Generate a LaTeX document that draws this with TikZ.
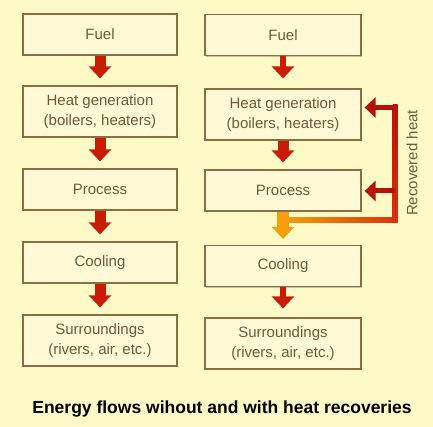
\documentclass[tikz,border=0pt]{standalone}
\usepackage{fontspec}
\setmainfont{Liberation Sans}
\usetikzlibrary{arrows.meta,shadows}

\definecolor{bgyellow}{RGB}{254,250,200}
\definecolor{boxfill}{RGB}{255,249,214}
\definecolor{boxline}{RGB}{140,108,64}
\definecolor{boxtext}{RGB}{110,90,60}
\definecolor{flowred}{RGB}{200,28,6}
\definecolor{heatdark}{RGB}{180,20,8}
\definecolor{heatred}{RGB}{215,50,10}
\definecolor{heatorange}{RGB}{245,160,10}

\begin{document}
\begin{tikzpicture}[x=1pt, y=-1pt,
    stagebox/.style={draw=boxline, line width=1.2pt, fill=boxfill, text=boxtext,
      align=center, inner sep=0pt, minimum height=41pt,
      font=\fontsize{15}{20}\selectfont,
      drop shadow={shadow xshift=1.2pt, shadow yshift=-1.2pt, fill=black!45, opacity=.5}},
    leftbox/.style={stagebox, minimum width=154pt},
    rightbox/.style={stagebox, minimum width=156pt},
    fatflow/.style={flowred, line width=11pt, -{Triangle[width=22pt,length=12pt]}},
    thinflow/.style={flowred, line width=6pt, -{Triangle[width=22pt,length=12pt]}},
    recflow/.style={heatdark, line width=5pt, -{Triangle[width=20pt,length=11pt]}, shorten >=3pt}]

  % Background
  \fill[bgyellow] (0,0) rectangle (433,427);

  % Without heat recovery
  \node[leftbox]                     (f1) at (100, 34.5) {Fuel};
  \node[leftbox, minimum height=51pt] (h1) at (100,111.5) {Heat generation\\(boilers, heaters)};
  \node[leftbox]                     (p1) at (100,189.5) {Process};
  \node[leftbox]                     (c1) at (100,262.5) {Cooling};
  \node[leftbox, minimum height=51pt] (s1) at (100,340.5) {Surroundings\\(rivers, air, etc.)};

  \draw[fatflow, shorten >=7pt] (f1.south) -- (h1.north);
  \draw[fatflow, shorten >=7pt] (h1.south) -- (p1.north);
  \draw[fatflow, shorten >=7pt] (p1.south) -- (c1.north);
  \draw[fatflow, shorten >=7pt] (c1.south) -- (s1.north);

  % With heat recovery
  \node[rightbox]                     (f2) at (283, 35) {Fuel};
  \node[rightbox, minimum height=51pt] (h2) at (283,114.5) {Heat generation\\(boilers, heaters)};
  \node[rightbox]                     (p2) at (283,190.5) {Process};
  \node[rightbox]                     (c2) at (283,266) {Cooling};
  \node[rightbox, minimum height=51pt] (s2) at (283,343.5) {Surroundings\\(rivers, air, etc.)};

  \draw[thinflow, shorten >=10pt] (f2.south) -- (h2.north);
  \draw[fatflow, shorten >=7pt] (h2.south) -- (p2.north);
  \draw[thinflow, shorten >=9pt] (c2.south) -- (s2.north);

  % Recovered heat loop
  \coordinate (looptop) at (395,107.5);
  \coordinate (loopmid) at (395,191);
  \shade[left color=heatorange, right color=heatred] (p2.south |- 0,218) rectangle (397.5,223);
  \shade[top color=heatdark, bottom color=heatred] (392.5,105) rectangle (397.5,223);
  \draw[heatorange, line width=12pt, -{Triangle[width=22pt,length=12pt]}, shorten >=6pt]
    (p2.south) -- (c2.north);
  \draw[recflow] (looptop) -- (h2.east |- looptop);
  \draw[recflow] (loopmid) -- (p2.east |- loopmid);
  \node[rotate=90, text=boxtext, font=\fontsize{15}{18}\selectfont] (rec) at (412,163) {Recovered heat};

  % Title
  \node[font=\bfseries\fontsize{17.5}{20}\selectfont] (title) at (222,409) {Energy flows wihout and with heat recoveries};
\end{tikzpicture}
\end{document}
